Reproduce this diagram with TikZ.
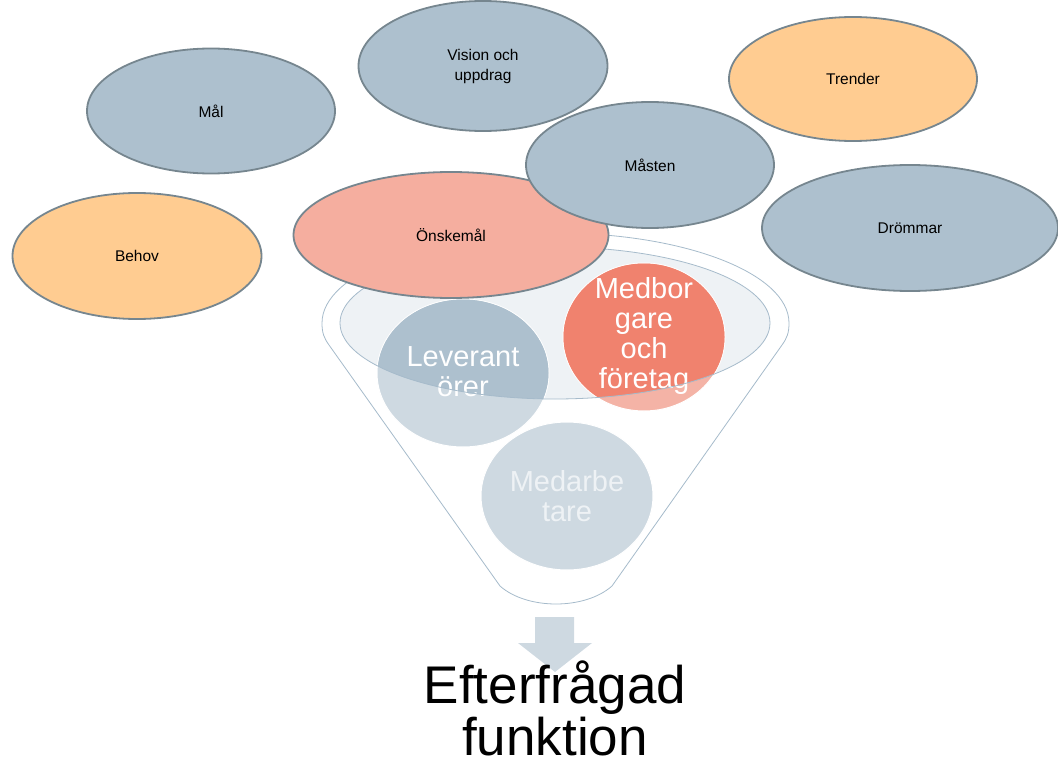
\documentclass[tikz,border=0pt]{standalone}
\usepackage{fontspec}
\setmainfont{Liberation Sans}
\usetikzlibrary{shapes.geometric}
\definecolor{gb}{HTML}{ADC0CE}
\definecolor{gbl}{HTML}{CED9E1}
\definecolor{gstroke}{HTML}{76868F}
\definecolor{orng}{HTML}{FFCC91}
\definecolor{pink}{HTML}{F5AE9F}
\definecolor{salm}{HTML}{F0826E}
\definecolor{salml}{HTML}{F4B3A6}
\definecolor{fun}{HTML}{A6BBCB}
\definecolor{funfill}{HTML}{EEF2F5}
\tikzset{
  bubble/.style={ellipse, draw=gstroke, line width=1.8pt, inner sep=0pt, font=\fontsize{15.5}{20}\selectfont, align=center},
  bigcirc/.style={ellipse, draw=white, line width=1pt, inner sep=0pt, text=white, font=\fontsize{29}{30}\selectfont, align=center},
  bigtext/.style={text=white, font=\fontsize{29}{30}\selectfont, align=center},
  restext/.style={font=\fontsize{53}{53}\selectfont, anchor=base, inner sep=0pt},
}
\begin{document}
\begin{tikzpicture}[x=1pt,y=-1pt]
\useasboundingbox (0,0) rectangle (1058,757);
% funnel outline
\coordinate (fl) at (322,323);
\draw[fun, line width=0.8pt, fill=white]
  (fl) arc[start angle=180, end angle=0, x radius=233.5, y radius=-90]
  .. controls (789,333) and (787,338) .. (782,345)
  -- (612,586) .. controls (585,610) and (527,610) .. (500,586)
  -- (329,345) .. controls (324,338) and (322,333) .. (fl) -- cycle;
% inner ellipse fill
\coordinate (ic) at (555,323);
\fill[funfill] (ic) ellipse[x radius=215, y radius=76];
% circles light
\node[bigcirc, fill=gbl, minimum width=172pt, minimum height=148pt] (lev) at (463,373) {};
\node[bigcirc, fill=salml, minimum width=162pt, minimum height=148pt] (med) at (644,337) {};
\node[bigcirc, fill=gbl, minimum width=172pt, minimum height=148pt, text=funfill] (mab) at (567,496) {Medarbe\\tare};
% dark parts inside inner ellipse
\begin{scope}
  \clip (ic) ellipse[x radius=215, y radius=76];
  \fill[gb] (lev) ellipse[x radius=85.5, y radius=73.5];
  \fill[salm] (med) ellipse[x radius=80.5, y radius=73.5];
\end{scope}
\node[bigtext] (levt) at (463,372) {Leverant\\örer};
\node[bigtext] (medt) at (644,336) {Medbor\\gare\\och\\företag};
\draw[fun, line width=0.8pt] (ic) ellipse[x radius=215, y radius=76];
% arrow
\fill[gbl] (535,617) -- (574,617) -- (574,643) -- (592,643) -- (555,672) -- (518,643) -- (535,643) -- cycle;
\node[restext] (res1) at (555,703) {Efterfrågad};
\node[restext] (res2) at (555,755) {funktion};
% top bubbles
\node[bubble, fill=gb, minimum width=248pt, minimum height=125pt] (mal) at (211,111) {Mål};
\node[bubble, fill=gb, minimum width=249pt, minimum height=130pt] (vis) at (483,66) {Vision och\\uppdrag};
\node[bubble, fill=orng, minimum width=248pt, minimum height=124pt] (tre) at (853,79) {Trender};
\node[bubble, fill=orng, minimum width=249pt, minimum height=126pt] (beh) at (137,256) {Behov};
\node[bubble, fill=gb, minimum width=296pt, minimum height=126pt] (dro) at (910,228) {Drömmar};
\node[bubble, fill=pink, minimum width=315pt, minimum height=126pt] (ons) at (451,235) {Önskemål};
\node[bubble, fill=gb, minimum width=248pt, minimum height=126pt] (mas) at (650,165) {Måsten};
\end{tikzpicture}
\end{document}
